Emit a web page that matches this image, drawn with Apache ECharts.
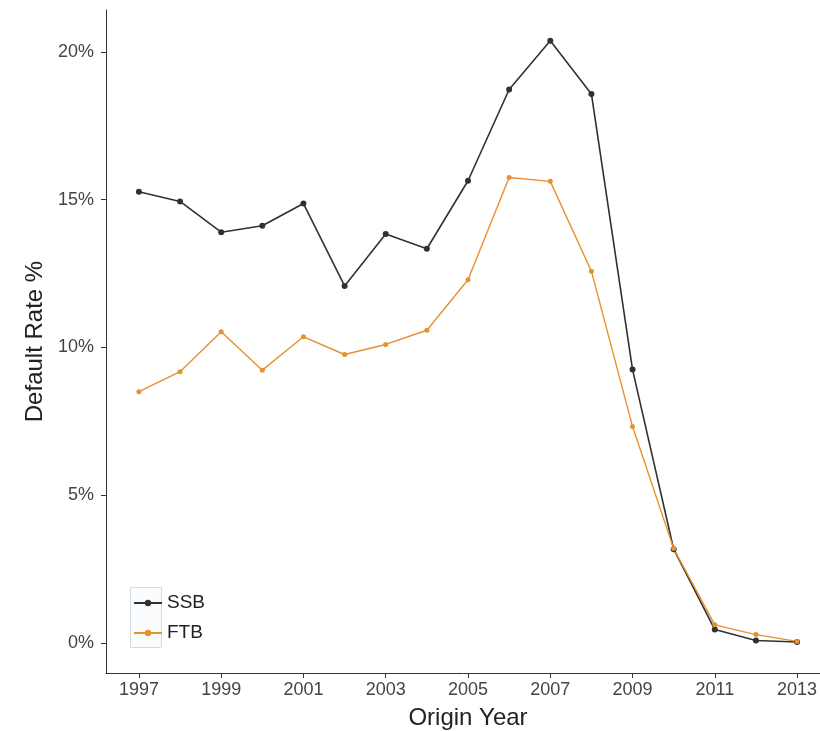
<!DOCTYPE html>
<html>
<head>
<meta charset="utf-8">
<script src="https://cdn.jsdelivr.net/npm/echarts@6/dist/echarts.min.js"></script>
<style>
html,body{margin:0;padding:0;background:#fff;}
#chart{width:820px;height:731px;}
</style>
</head>
<body>
<div id="chart"></div>
<script>
var years = [1997,1998,1999,2000,2001,2002,2003,2004,2005,2006,2007,2008,2009,2010,2011,2012,2013];
var ssb = [15.27,14.94,13.90,14.12,14.87,12.08,13.84,13.34,15.64,18.73,20.38,18.58,9.25,3.17,0.45,0.08,0.03];
var ftb = [8.50,9.18,10.53,9.23,10.36,9.76,10.10,10.58,12.29,15.75,15.62,12.58,7.32,3.19,0.61,0.28,0.05];
var yTicks = [0,5,10,15,20];
var xTicks = [1997,1999,2001,2003,2005,2007,2009,2011,2013];

function pairs(xs, ys){ return xs.map(function(x,i){ return [x, ys[i]]; }); }

var chart = echarts.init(document.getElementById('chart'));
var axisCol = '#333333';
var font = 'Liberation Sans, Arial, sans-serif';
chart.setOption({
  animation:false,
  backgroundColor:'#ffffff',
  grid:{left:106, right:-10, top:10, bottom:58, containLabel:false, outerBoundsMode:'none'},
  graphic:[{
    type:'rect', left:130, top:587, silent:true, z:-1,
    shape:{width:31, height:60},
    style:{fill:'#fbfcfe', stroke:'#d5dbe4', lineWidth:1}
  }],
  xAxis:{
    type:'value', min:1996.2, max:2013.8,
    name:'Origin Year', nameLocation:'middle', nameGap:33,
    nameTextStyle:{fontFamily:font, fontSize:24, color:'#222'},
    axisLine:{show:true, onZero:false, lineStyle:{color:axisCol, width:1}},
    axisTick:{show:true, length:5, lineStyle:{color:axisCol}, customValues:xTicks},
    axisLabel:{customValues:xTicks, fontFamily:font, fontSize:18, color:'#444', margin:8,
      formatter:function(v){ return String(v); }},
    splitLine:{show:false}
  },
  yAxis:{
    type:'value', min:-1.02, max:21.42,
    name:'Default Rate %', nameLocation:'middle', nameGap:56, nameRotate:90,
    nameTextStyle:{fontFamily:font, fontSize:24, color:'#222'},
    axisLine:{show:true, onZero:false, lineStyle:{color:axisCol, width:1}},
    axisTick:{show:true, length:5, lineStyle:{color:axisCol}, customValues:yTicks},
    axisLabel:{customValues:yTicks, fontFamily:font, fontSize:18, color:'#444', margin:12,
      formatter:function(v){ return v + '%'; }},
    splitLine:{show:false}
  },
  legend:{
    orient:'vertical', left:128, top:588, itemGap:10, padding:5,
    itemWidth:28, itemHeight:8,
    textStyle:{fontFamily:font, fontSize:19, color:'#222', lineHeight:20},
    data:['SSB','FTB']
  },
  series:[
    {name:'SSB', type:'line', data:pairs(years, ssb), symbol:'circle', symbolSize:6,
     itemStyle:{color:'#2f3133'}, lineStyle:{color:'#2f3133', width:1.6}},
    {name:'FTB', type:'line', data:pairs(years, ftb), symbol:'circle', symbolSize:5,
     itemStyle:{color:'#E8902E'}, lineStyle:{color:'#E8902E', width:1.4}}
  ]
});
</script>
</body>
</html>
